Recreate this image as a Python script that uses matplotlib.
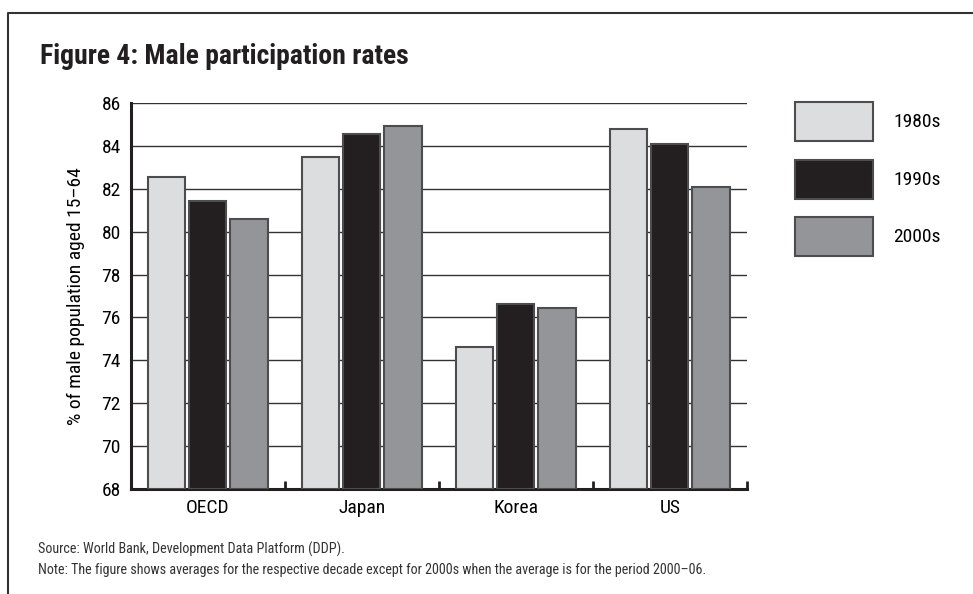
import numpy as np
import matplotlib
matplotlib.use("Agg")
import matplotlib.pyplot as plt
from matplotlib import font_manager
from matplotlib.patches import Rectangle
from matplotlib.lines import Line2D

countries = ["OECD", "Japan", "Korea", "US"]
decades = ["1980s", "1990s", "2000s"]
rate_1980s = [82.57, 83.5, 74.62, 84.81]
rate_1990s = [81.44, 84.56, 76.63, 84.08]
rate_2000s = [80.6, 84.95, 76.44, 82.07]
yticks = [68, 70, 72, 74, 76, 78, 80, 82, 84, 86]

colors = ["#dcdddf", "#231f20", "#939598"]
edge = "#4d4d4f"

# pick a narrow font if there is one
names = set(f.name for f in font_manager.fontManager.ttflist)
font = "DejaVu Sans"
for cand in ["Roboto Condensed", "Liberation Sans Narrow", "Open Sans Condensed", "DejaVu Sans Condensed"]:
    if cand in names:
        font = cand
        break
plt.rcParams["font.family"] = font

fig = plt.figure(figsize=(9.73, 5.94), dpi=100)
W, H = 973, 594
ax = fig.add_axes([130.7 / W, (H - 489) / H, 616 / W, 386 / H])

x = np.arange(len(countries))
w = 0.243
step = 0.268
series = [rate_1980s, rate_1990s, rate_2000s]
for i, vals in enumerate(series):
    bottoms = np.full(len(vals), 68.0)
    ax.bar(x + (i - 1) * step, np.array(vals) - 68, bottom=bottoms, width=w,
           color=colors[i], edgecolor=edge, linewidth=1.5, zorder=3)

ax.set_xlim(-0.5, 3.5)
ax.set_ylim(68, 86)
ax.set_yticks(yticks)
ax.set_yticklabels([str(t) for t in yticks], fontsize=14)
ax.tick_params(axis="y", length=0, pad=7)
ax.grid(axis="y", color="#333333", linewidth=1.0, zorder=0)
ax.set_xticks(x)
ax.set_xticklabels(countries, fontsize=14)
ax.tick_params(axis="x", which="major", length=0, pad=7)
ax.set_xticks(np.arange(0.5, 4.0, 1.0), minor=True)
ax.tick_params(axis="x", which="minor", direction="in", length=6, width=2, color="#231f20")
for s in ["top", "right"]:
    ax.spines[s].set_visible(False)
ax.spines["left"].set_linewidth(2.2)
ax.spines["bottom"].set_linewidth(2.2)
ax.spines["left"].set_color("#231f20")
ax.spines["bottom"].set_color("#231f20")
ax.set_ylabel("% of male population aged 15\u201364", fontsize=14, labelpad=12)

# legend drawn as boxes on the figure
box_y = [102, 160, 217]
for i, lab in enumerate(decades):
    fig.patches.append(Rectangle((795 / W, 1 - (box_y[i] + 39) / H), 78 / W, 39 / H,
                                 transform=fig.transFigure, facecolor=colors[i],
                                 edgecolor=edge, linewidth=1.5))
    fig.text(893 / W, 1 - (box_y[i] + 20) / H, lab, fontsize=14, va="center", ha="left")

fig.text(40 / W, 1 - 57 / H, "Figure 4: Male participation rates", fontsize=20,
         fontweight="bold", va="center", ha="left", color="#231f20")
fig.text(38 / W, 1 - 549 / H, "Source: World Bank, Development Data Platform (DDP).",
         fontsize=10.2, va="center", ha="left", color="#333333")
fig.text(38 / W, 1 - 570 / H,
         "Note: The figure shows averages for the respective decade except for 2000s when the average is for the period 2000\u201306.",
         fontsize=10.2, va="center", ha="left", color="#333333")

# frame
fig.lines.append(Line2D([8 / W, 8 / W, 1.0], [0.0, 1 - 12.5 / H, 1 - 12.5 / H],
                        transform=fig.transFigure, color="#333333", linewidth=1.5))

fig.savefig("out.png", dpi=100)
